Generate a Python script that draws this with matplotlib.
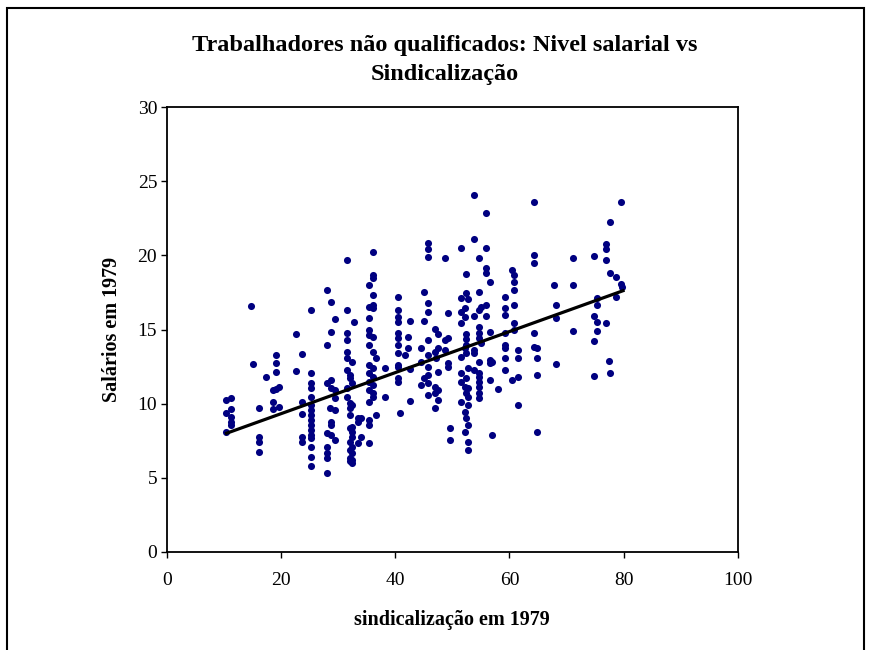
import numpy as np
import matplotlib.pyplot as plt
from matplotlib.patches import Rectangle

# Dados: sindicalização (x) e salários (y), agrupados por coluna
x_sind = [10.4, 11.3, 14.7, 15.1, 16.2, 17.3, 18.6, 19.1, 19.6, 22.7, 23.6, 25.3,
          28.0, 28.8, 29.4, 28.5, 31.5, 32.0, 32.4, 32.8, 33.5, 34.0, 35.4, 36.1,
          36.7, 38.2, 40.5, 40.8, 42.3, 42.6, 41.8, 44.6, 45.1, 45.8, 46.9, 47.5,
          47.2, 48.7, 49.3, 49.6, 51.6, 52.2, 52.4, 52.8, 53.8, 54.6, 55.0, 55.9,
          56.6, 56.9, 58.0, 59.2, 60.4, 60.8, 61.5, 64.3, 64.9, 67.8, 68.2, 71.1,
          74.8, 75.4, 77.0, 77.5, 77.7, 78.6, 79.6, 79.8]

salarios = [
    [10.25, 9.4, 8.11],
    [10.36, 9.62, 9.12, 8.79, 8.56],
    [16.6],
    [12.68],
    [9.69, 7.78, 7.44, 6.76],
    [11.78],
    [10.9, 10.14, 9.62],
    [13.28, 12.72, 12.11, 11.0],
    [11.1, 9.8],
    [14.68, 12.23],
    [13.33, 10.14, 9.31, 7.78, 7.44],
    [16.32, 12.09, 11.38, 11.04, 10.47, 9.91, 9.58, 9.24, 8.9, 8.56, 8.23, 7.89, 7.67, 7.1, 6.43, 5.8],
    [17.67, 13.96, 11.42, 8.0, 7.1, 6.65, 6.32, 5.3],
    [16.88, 14.81, 11.6, 11.04, 8.79, 8.56, 7.89],
    [15.69, 10.9, 10.36, 9.58, 7.55],
    [9.69],
    [19.7, 16.32, 14.75, 14.3, 13.51, 13.06, 12.27, 11.04, 10.47],
    [11.94, 11.71, 10.03, 9.69, 9.24, 8.34, 7.44, 6.88, 6.32, 6.1],
    [12.83, 11.38, 9.91, 8.45, 8.11, 7.78, 7.1, 6.65, 5.98, 6.2],
    [15.53],
    [9.01, 8.79, 7.33],
    [9.01, 7.78],
    [18.0, 16.54, 15.76, 14.97, 14.63, 13.96, 12.61, 12.05, 11.48, 10.92, 10.14, 8.9, 8.56, 7.37],
    [20.25, 18.68, 18.47, 17.33, 16.66, 16.43, 14.48, 13.51, 12.39, 11.82, 11.26, 10.7, 10.47],
    [13.06, 9.24],
    [12.39, 10.47],
    [17.22, 16.32, 15.83, 15.53, 14.75, 14.41, 13.96, 13.4, 12.61, 12.5, 11.71, 11.48],
    [9.4],
    [14.52, 13.73],
    [15.6, 12.32, 10.2],
    [13.28],
    [13.73, 12.83, 11.26],
    [17.55, 15.6, 11.71],
    [20.86, 20.41, 19.91, 16.81, 16.2, 14.3, 13.28, 12.5, 11.94, 11.38, 10.59],
    [15.02, 13.51, 11.15, 10.7, 9.69],
    [14.68, 13.73, 12.16, 10.92, 10.25],
    [13.06],
    [19.8, 14.3, 13.62],
    [16.1, 14.41, 12.72, 12.5],
    [8.34, 7.55],
    [20.52, 17.1, 16.2, 15.42, 13.17, 12.05, 11.48, 10.14],
    [16.43, 15.87, 13.73, 11.15, 9.46, 8.11],
    [18.75, 17.44, 14.7, 14.34, 13.96, 13.4, 11.71, 10.7, 9.01],
    [17.04, 12.39, 11.04, 10.47, 9.91, 8.56, 7.44, 6.88],
    [24.07, 21.09, 15.91, 13.62, 13.4, 12.27],
    [19.8, 17.55, 16.32, 15.19, 14.75, 14.41, 12.83, 12.05, 11.82, 11.48, 11.15, 10.7, 10.36],
    [16.54, 14.07],
    [22.84, 20.48, 19.13, 18.79, 16.66, 15.91],
    [18.23, 14.86, 12.95, 12.72, 11.6],
    [12.83, 7.89],
    [10.97],
    [17.22, 16.43, 15.98, 14.75, 13.96, 13.73, 13.06, 12.27],
    [19.02, 11.6],
    [18.68, 18.23, 17.67, 16.66, 15.42, 14.97],
    [13.62, 13.06, 11.78, 9.91],
    [23.62, 20.03, 19.47, 14.8, 13.84],
    [13.73, 13.06, 11.94, 8.11],
    [18.0],
    [16.66, 15.76, 12.68],
    [19.8, 18.0, 14.93],
    [19.98, 15.93, 14.23, 11.87],
    [17.1, 16.66, 15.53, 14.93],
    [20.75, 20.41, 19.69, 15.46],
    [12.88],
    [22.27, 18.83, 12.09],
    [18.52, 17.17],
    [23.62, 18.07],
    [17.85],
]

# Linha de tendência
trend_x = [10.45, 79.9]
trend_y = [8.0, 17.62]

xs = np.concatenate([[xv] * len(ys) for xv, ys in zip(x_sind, salarios)])
ys = np.concatenate(salarios)

plt.rcParams['font.family'] = ['Liberation Serif', 'DejaVu Serif']

fig = plt.figure(figsize=(8.69, 6.5), dpi=100)
ax = fig.add_axes([0.192, 0.151, 0.657, 0.684])

ax.scatter(xs, ys, s=26, color='#000080', zorder=3, linewidths=0)
ax.plot(trend_x, trend_y, color='black', lw=2.3, zorder=4)

ax.set_xlim(0, 100)
ax.set_ylim(0, 30)
ax.set_xticks(range(0, 101, 20))
ax.set_yticks(range(0, 31, 5))
ax.tick_params(labelsize=14, direction='out', length=4.5, width=1)
ax.tick_params(axis='x', pad=10)
ax.tick_params(axis='y', pad=2.5)
for s in ax.spines.values():
    s.set_linewidth(1.3)

ax.set_xlabel('sindicalização em 1979', fontsize=14.5, fontweight='bold', labelpad=15)
ax.set_ylabel('Salários em 1979', fontsize=14.5, fontweight='bold', labelpad=11)
fig.text(0.512, 0.908, 'Trabalhadores não qualificados: Nivel salarial vs\nSindicalização',
         ha='center', va='center', fontsize=17.5, fontweight='bold', linespacing=1.5)

fig.patches.append(Rectangle((0.008, -0.01), 0.986, 0.998, transform=fig.transFigure,
                             fill=False, edgecolor='black', lw=1.5))

fig.savefig('out.png', dpi=100)
